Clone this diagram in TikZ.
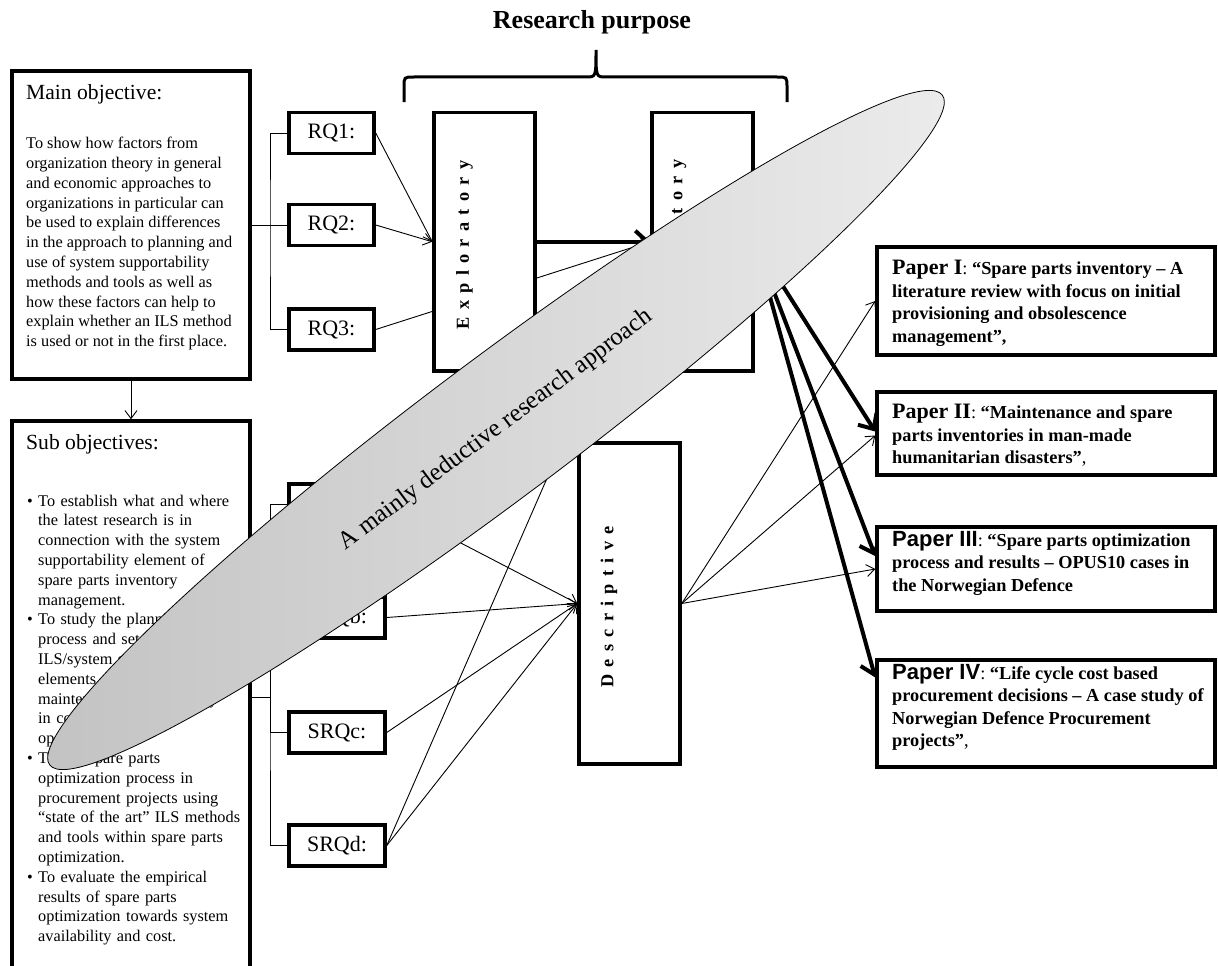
\documentclass[tikz,border=0pt]{standalone}
\usepackage{fontspec}
\setmainfont{Liberation Serif}
\newfontfamily\arialfont{Liberation Sans}
\newfontfamily\spacedfont[LetterSpace=40]{Liberation Serif}
\usetikzlibrary{shapes.geometric,arrows.meta,positioning,backgrounds}
\definecolor{EllipseDark}{HTML}{C2C2C2}
\definecolor{EllipseLight}{HTML}{ECECEC}
\newcommand{\objitem}[1]{\par\noindent\hangindent=11pt\hangafter=1\makebox[11pt][l]{\textbullet}#1\par}

\begin{document}
\begin{tikzpicture}[
    x=1pt, y=-1pt,
    box/.style={draw, line width=3.5pt, fill=white, inner sep=0pt},
    rqbox/.style={box, minimum height=41pt, font=\fontsize{22}{22}\selectfont},
    purposebox/.style={box, minimum width=101pt},
    paperbox/.style={box, minimum width=338pt},
    vtext/.style={rotate=90, inner sep=0pt, font=\spacedfont\bfseries\fontsize{18.3}{18.3}\selectfont},
    titletext/.style={anchor=north west, inner sep=0pt, font=\fontsize{21.6}{22}\selectfont},
    bodytext/.style={anchor=north west, inner sep=0pt, font=\fontsize{16.3}{19.8}\selectfont},
    papertext/.style={anchor=north west, align=left, inner sep=0pt, font=\bfseries\fontsize{18.3}{22.5}\selectfont},
    link/.style={line width=0.9pt, -{Straight Barb[length=8pt,width=12pt]}},
    boldlink/.style={line width=4pt, -{Straight Barb[length=12pt,width=22pt]}},
    tree/.style={line width=0.9pt}
]
  \useasboundingbox (0,0) rectangle (1218,966);

  % =========================================================================
  % RESEARCH PURPOSE (TOP BRACE)
  % =========================================================================
  \node[font=\bfseries\fontsize{26}{26}\selectfont] (purpose_title) at (592,22) {Research purpose};
  \draw[line width=3pt] (404,102) -- (404,87) .. controls (404,77) .. (414,77) -- (586,77)
    .. controls (596,77) .. (596,50) .. controls (596,77) .. (606,77) -- (777,77)
    .. controls (787,77) .. (787,87) -- (787,102);

  % =========================================================================
  % OBJECTIVES - LEFT SIDE
  % =========================================================================
  % Main objective
  \node[box, minimum width=238pt, minimum height=308pt] (main_obj) at (131,225) {};
  \node[titletext] (main_title) at (26,84) {Main objective:};
  \node[bodytext, align=left] (main_text) at (26,137) {
    To show how factors from\\
    organization theory in general\\
    and economic approaches to\\
    organizations in particular can\\
    be used to explain differences\\
    in the approach to planning and\\
    use of system supportability\\
    methods and tools as well as\\
    how these factors can help to\\
    explain whether an ILS method\\
    is used or not in the first place.
  };

  % Sub objectives
  \node[box, minimum width=238pt, minimum height=570pt] (sub_obj) at (131,706) {};
  \node[titletext] (sub_title) at (26,434) {Sub objectives:};
  \node[bodytext, text width=225pt] (sub_text) at (27,486) {
    \objitem{To establish what and where\newline the latest research is in\newline connection with the system\newline supportability element of\newline spare parts inventory\newline management.}
    \objitem{To study the planning\newline process and set up of\newline ILS/system supportability\newline elements of spare parts\newline maintenance and inventory\newline in connection with\newline operations.}
    \objitem{To test spare parts\newline optimization process in\newline procurement projects using\newline “state of the art” ILS methods\newline and tools within spare parts\newline optimization.}
    \objitem{To evaluate the empirical\newline results of spare parts\newline optimization towards system\newline availability and cost.}
  };

  \draw[link] (main_obj.south) -- (sub_obj.north);

  % =========================================================================
  % RESEARCH QUESTIONS
  % =========================================================================
  \node[rqbox, minimum width=85pt] (rq1) at (331.5,133) {RQ1:};
  \node[rqbox, minimum width=85pt] (rq2) at (331.5,225) {RQ2:};
  \node[rqbox, minimum width=85pt] (rq3) at (331.5,329.5) {RQ3:};

  \coordinate (rq_split) at (270,225);
  \draw[tree] (main_obj.east) -- (rq_split);
  \draw[tree] (rq1.west) -| (rq_split) |- (rq3.west);
  \draw[tree] (rq_split) -- (rq2.west);

  \node[rqbox, minimum width=96pt] (srq_a) at (337,504.5) {SRQa:};
  \node[rqbox, minimum width=96pt] (srq_b) at (337,617.5) {SRQb:};
  \node[rqbox, minimum width=96pt] (srq_c) at (337,732.5) {SRQc:};
  \node[rqbox, minimum width=96pt] (srq_d) at (337,845.5) {SRQd:};

  \coordinate (srq_split) at (270,697);
  \draw[tree] (sub_obj.east |- srq_split) -- (srq_split);
  \draw[tree] (srq_a.west) -| (srq_split) |- (srq_d.west);
  \draw[tree] (srq_split) |- (srq_b.west);
  \draw[tree] (srq_split) |- (srq_c.west);

  % =========================================================================
  % RESEARCH PURPOSE BOXES
  % =========================================================================
  \node[purposebox, minimum height=258.5pt] (exploratory) at (484.5,241.75) {};
  \node[vtext] (exploratory_txt) at (464.5,245) {Exploratory};

  \node[purposebox, minimum height=258.5pt] (explanatory) at (702.5,241.75) {};
  \node[vtext] (explanatory_txt) at (678,245) {Explanatory};

  \node[purposebox, minimum height=321pt] (descriptive) at (629.5,603.5) {};
  \node[vtext] (descriptive_txt) at (609,607) {Descriptive};

  % =========================================================================
  % PAPERS - RIGHT SIDE
  % =========================================================================
  \node[paperbox, minimum height=108pt] (paper_i) at (1046,301) {};
  \node[papertext] (paper_i_txt) at (892,260) {{\fontsize{22}{22.5}\selectfont Paper I}{\mdseries:} “Spare parts inventory – A\\literature review with focus on initial\\provisioning and obsolescence\\management”,};

  \node[paperbox, minimum height=83pt] (paper_ii) at (1046,433.5) {};
  \node[papertext] (paper_ii_txt) at (892,404) {{\fontsize{22}{22.5}\selectfont Paper II}{\mdseries:} “Maintenance and spare\\parts inventories in man-made\\humanitarian disasters”{\mdseries,}};

  \node[paperbox, minimum height=84pt] (paper_iii) at (1046,569) {};
  \node[papertext] (paper_iii_txt) at (892,531) {{\arialfont\fontsize{22}{22.5}\selectfont Paper III}{\mdseries:} “Spare parts optimization\\process and results – OPUS10 cases in\\the Norwegian Defence};

  \node[paperbox, minimum height=107pt] (paper_iv) at (1046,713.5) {};
  \node[papertext] (paper_iv_txt) at (892,664) {{\arialfont\fontsize{22}{22.5}\selectfont Paper IV}{\mdseries:} “Life cycle cost based\\procurement decisions – A case study of\\Norwegian Defence Procurement\\projects”{\mdseries,}};

  % =========================================================================
  % CONNECTORS (behind the boxes)
  % =========================================================================
  \begin{scope}[on background layer]
    \draw[link] (rq1.east) -- (exploratory.west);
    \draw[link] (rq2.east) -- (exploratory.west);
    \draw[link] (rq3.east) -- (explanatory.west);
    \draw[boldlink] (exploratory.east) -- (explanatory.west);

    \draw[link] (srq_a.east) -- (descriptive.west);
    \draw[link] (srq_b.east) -- (descriptive.west);
    \draw[link] (srq_c.east) -- (descriptive.west);
    \draw[link] (srq_d.east) -- (descriptive.west);
    \draw[link] (srq_d.east) -- (explanatory.west);

    \draw[link] (descriptive.east) -- (paper_i.west);
    \draw[link] (descriptive.east) -- ([yshift=-2pt]paper_ii.west);
    \draw[link] (descriptive.east) -- (paper_iii.west);

    \draw[boldlink] (explanatory.east) -- ([yshift=2pt]paper_ii.west);
    \draw[boldlink] (explanatory.east) -- ([yshift=13pt]paper_iii.west);
    \draw[boldlink] (explanatory.east) -- ([yshift=36pt]paper_iv.west);
  \end{scope}

  % =========================================================================
  % DEDUCTIVE APPROACH (ELLIPSE ON TOP)
  % =========================================================================
  \node[ellipse, draw, line width=0.8pt, rotate=36.88, minimum width=1116pt, minimum height=140pt,
        inner sep=0pt, left color=EllipseDark, right color=EllipseLight,
        font=\fontsize{25}{25}\selectfont] (approach) at (496,430) {A mainly deductive research approach};

\end{tikzpicture}
\end{document}
